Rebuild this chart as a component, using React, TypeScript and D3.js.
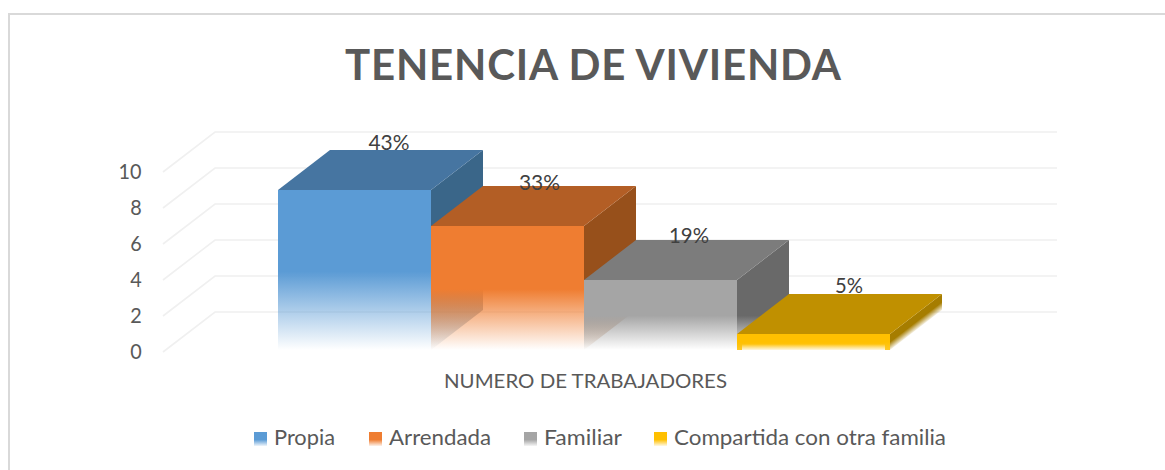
import React from "react";
import * as d3 from "d3";

const title = "TENENCIA DE VIVIENDA";
const axisTitle = "NUMERO DE TRABAJADORES";
const categories = ["Propia", "Arrendada", "Familiar", "Compartida con otra familia"];
const values = [9, 7, 4, 1];
const shares = ["43%", "33%", "19%", "5%"];
const ticks = [0, 2, 4, 6, 8, 10];
const frontColors = ["#5b9bd5", "#ef7d31", "#a5a5a5", "#ffc000"];
const topColors = ["#4675a1", "#b35e25", "#7c7c7c", "#c09000"];
const sideColors = ["#3a6689", "#97501b", "#696969", "#a67d00"];

const DX = 52;
const DY = 40;
const FLOOR = 350;
const INK = "#595959";
const FONT = "Lato, Carlito, sans-serif";

const x = d3.scaleBand<string>().domain(categories).range([278, 890]);
const y = d3.scaleLinear().domain([0, 10]).range([352, 172]);
const path = (pts: [number, number][]) => d3.line()(pts) + "Z";

const legendSwatchX = [254, 369, 524, 654];
const legendTextLen = [61, 102, 78, 272];
const labelDx = [34.5, 32, 28.5, 35.5];
const labelDy = [0, 4, 3, -1];
const labelLen = [41, 41, 40, 28];

export default function App() {
  const bw = x.bandwidth();
  return (
    <svg width={1165} height={470} style={{ position: "absolute", left: 0, top: 0, background: "#fff" }}>
      <defs>
        {categories.map((c, i) => {
          const top = y(values[i]);
          const mid = top + (FLOOR - top) * 0.51;
          const xr = (x(c) as number) + bw;
          const slope = -DY / DX;
          return (
            <React.Fragment key={c}>
              <linearGradient id={`front${i}`} gradientUnits="userSpaceOnUse" x1={0} x2={0} y1={mid} y2={FLOOR}>
                <stop offset={0} stopColor={frontColors[i]} stopOpacity={1} />
                <stop offset={1} stopColor={frontColors[i]} stopOpacity={i === 3 ? 0.85 : 0} />
              </linearGradient>
              {i === 3 ? (
                <linearGradient
                  id={`side${i}`}
                  gradientUnits="userSpaceOnUse"
                  x1={0}
                  x2={0}
                  y1={FLOOR - 8}
                  y2={FLOOR}
                  gradientTransform={`matrix(1 ${slope} 0 1 0 ${-slope * xr})`}
                >
                  <stop offset={0} stopColor={sideColors[i]} stopOpacity={1} />
                  <stop offset={1} stopColor={sideColors[i]} stopOpacity={0.1} />
                </linearGradient>
              ) : (
                <linearGradient id={`side${i}`} gradientUnits="userSpaceOnUse" x1={0} x2={0} y1={mid} y2={FLOOR}>
                  <stop offset={0} stopColor={sideColors[i]} stopOpacity={1} />
                  <stop offset={1} stopColor={sideColors[i]} stopOpacity={0} />
                </linearGradient>
              )}
              <linearGradient id={`swatch${i}`} x1={0} x2={0} y1={0} y2={1}>
                <stop offset={0.55} stopColor={frontColors[i]} />
                <stop offset={1} stopColor={frontColors[i]} stopOpacity={0.1} />
              </linearGradient>
            </React.Fragment>
          );
        })}
        <linearGradient id="inner" x1={0} x2={0} y1={0} y2={1}>
          <stop offset={0} stopColor="#fff" stopOpacity={0} />
          <stop offset={1} stopColor="#fff" stopOpacity={0.85} />
        </linearGradient>
      </defs>

      {/* chart frame */}
      <path d="M9,470V14H1165" fill="none" stroke="#d9d9d9" strokeWidth={2} />

      <text x={345} y={80} fontFamily={FONT} fontWeight={700} fontSize={42} textLength={496} fill={INK}>
        {title}
      </text>

      {/* gridlines */}
      {ticks.map((t) => (
        <path
          key={t}
          d={d3.line()([
            [163, y(t)],
            [163 + DX, y(t) - DY],
            [1057, y(t) - DY],
          ]) as string}
          fill="none"
          stroke="#f0f0f0"
          strokeWidth={1.6}
        />
      ))}

      {/* tick labels */}
      {ticks.map((t) => (
        <text
          key={t}
          x={142 - String(t).length * 11.7}
          y={y(t) + 7}
          fontFamily={FONT}
          fontSize={21}
          fill={INK}
          textLength={String(t).length * 11.5}
          lengthAdjust="spacingAndGlyphs"
        >
          {t}
        </text>
      ))}

      {/* bars */}
      {categories.map((c, i) => {
        const x0 = x(c) as number;
        const x1 = x0 + bw;
        const top = y(values[i]);
        return (
          <g key={c}>
            <path
              d={path([
                [x1, top],
                [x1 + DX, top - DY],
                [x1 + DX, FLOOR - DY],
                [x1, FLOOR],
              ])}
              fill={`url(#side${i})`}
            />
            <path
              d={path([
                [x0, top],
                [x0 + DX, top - DY],
                [x1 + DX, top - DY],
                [x1, top],
              ])}
              fill={topColors[i]}
            />
            <rect x={x0} y={top} width={bw} height={FLOOR - top} fill={`url(#front${i})`} />
            {i === 3 && <rect x={x0 + 5} y={top + 10} width={bw - 10} height={FLOOR - top - 10} fill="url(#inner)" />}
          </g>
        );
      })}

      {/* share labels */}
      {categories.map((c, i) => (
        <text
          key={c}
          x={(x(c) as number) + bw / 2 + labelDx[i] - labelLen[i] / 2}
          y={y(values[i]) - DY + labelDy[i]}
          fontFamily={FONT}
          fontSize={21}
          fill="#404040"
          textLength={labelLen[i]}
          lengthAdjust="spacingAndGlyphs"
        >
          {shares[i]}
        </text>
      ))}

      <text x={444} y={388} fontFamily={FONT} fontSize={20} fill={INK} textLength={283} lengthAdjust="spacingAndGlyphs">
        {axisTitle}
      </text>

      {/* legend */}
      {categories.map((c, i) => (
        <g key={c}>
          <rect x={legendSwatchX[i]} y={432} width={13} height={14} fill={`url(#swatch${i})`} />
          <text
            x={legendSwatchX[i] + 20}
            y={445}
            fontFamily={FONT}
            fontSize={21}
            fill={INK}
            textLength={legendTextLen[i]}
            lengthAdjust="spacingAndGlyphs"
          >
            {c}
          </text>
        </g>
      ))}
    </svg>
  );
}
